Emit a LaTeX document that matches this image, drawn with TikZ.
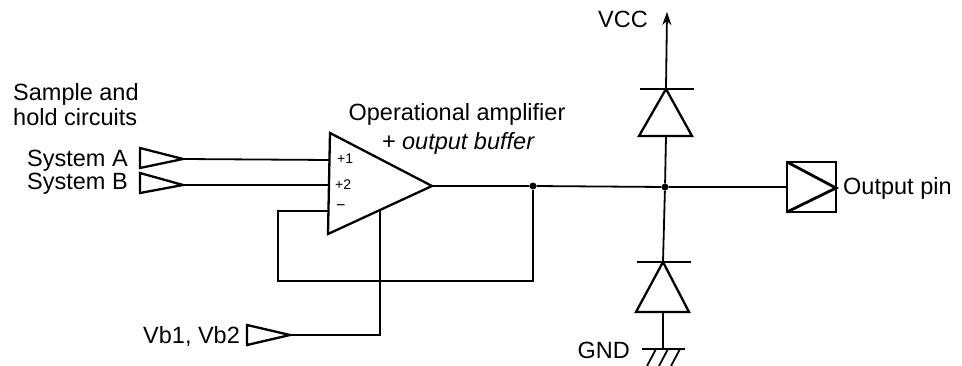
\documentclass[tikz,border=0pt]{standalone}
\usepackage{fontspec}
\setmainfont{Liberation Sans}
\usetikzlibrary{arrows.meta}
\tikzset{
  wire/.style={line width=1.8pt},
  thick sym/.style={line width=2.3pt,line join=miter},
  lab/.style={inner sep=0pt,font=\fontsize{23.5}{25}\selectfont},
  pinlab/.style={inner sep=0pt,font=\fontsize{14}{14}\selectfont},
  junct/.style={circle,fill=black,inner sep=0pt,minimum size=7pt}
}
\begin{document}
\begin{tikzpicture}[x=1pt,y=-1pt]
\useasboundingbox (0,0) rectangle (962,366);
% coordinates
\coordinate (aT) at (140,148); \coordinate (aB) at (140,168); \coordinate (aO) at (183,159);
\coordinate (bT) at (140,173); \coordinate (bB) at (140,193); \coordinate (bO) at (183,185);
\coordinate (vT) at (247,325); \coordinate (vB) at (247,345); \coordinate (vO) at (290,335);
\coordinate (opT) at (330,133); \coordinate (opB) at (328,234); \coordinate (opO) at (432,186);
\coordinate (in1) at (330,160); \coordinate (in2) at (330,185); \coordinate (inm) at (329,211);
\coordinate (pw) at (380,210); \coordinate (pwb) at (380,335);
\coordinate (fbl) at (278,211); \coordinate (fbb) at (278,281); \coordinate (fbr) at (533,281);
\node[junct] (j1) at (533,186) {};
\node[junct] (j2) at (665,187) {};
\coordinate (vcc) at (667,12);
\coordinate (d1a) at (666,89); \coordinate (d1l) at (639,136); \coordinate (d1r) at (692,136); \coordinate (d1m) at (666,136);
\coordinate (d1bl) at (640,89); \coordinate (d1br) at (694,89);
\coordinate (d2a) at (663,262); \coordinate (d2l) at (636,312); \coordinate (d2r) at (689,312); \coordinate (d2m) at (663,312);
\coordinate (d2bl) at (637,262); \coordinate (d2br) at (691,262);
\coordinate (g) at (663,349);
\coordinate (gl) at (642,349); \coordinate (gr) at (685,349);
\coordinate (pinTL) at (787,162); \coordinate (pinBL) at (787,212); \coordinate (pinTR) at (836,162); \coordinate (pinBR) at (836,212); \coordinate (pinO) at (836,188); \coordinate (pinI) at (787,187);
% buffers
\draw[thick sym] (aT) -- (aO) -- (aB) -- cycle;
\draw[thick sym] (bT) -- (bO) -- (bB) -- cycle;
\draw[thick sym] (vT) -- (vO) -- (vB) -- cycle;
\draw[thick sym] (opT) -- (opO) -- (opB) -- cycle;
% wires
\draw[wire] (aO) -- (in1);
\draw[wire] (bO) -- (in2);
\draw[wire] (opO) -- (j1) -- (j2) -- (pinI);
\draw[wire] (inm) -- (fbl) -- (fbb) -- (fbr) -- (j1);
\draw[wire] (pw) -- (pwb) -- (vO);
\draw[wire,-{Stealth[length=13pt,width=9pt]}] (d1a) -- (vcc);
\draw[wire] (d1m) -- (j2) -- (d2a);
\draw[wire] (d2m) -- (g);
% diodes
\draw[thick sym] (d1a) -- (d1l) -- (d1r) -- cycle;
\draw[wire] (d1bl) -- (d1br);
\draw[thick sym] (d2a) -- (d2l) -- (d2r) -- cycle;
\draw[wire] (d2bl) -- (d2br);
% ground
\draw[wire] (gl) -- (gr);
\draw[wire] (656,349) -- (647,366);
\draw[wire] (668,349) -- (659,366);
\draw[wire] (680,349) -- (671,366);
% output pin
\draw[line width=1.8pt] (pinTL) rectangle (pinBR);
\draw[line width=2.8pt] (pinTL) -- (pinO) -- (pinBL);
% labels
\node[lab,anchor=base west] (t1) at (13,101) {Sample and};
\node[lab,anchor=base west] (t2) at (13,126) {hold circuits};
\node[lab,anchor=base west] (t3) at (27,167) {System A};
\node[lab,anchor=base west] (t4) at (27,190) {System B};
\node[lab,anchor=base] (t5) at (457,121) {Operational amplifier};
\node[lab,anchor=base] (t6) at (458,150) {\itshape + output buffer};
\node[lab,anchor=base west] (t7) at (143,343) {Vb1, Vb2};
\node[lab,anchor=base west] (t8) at (843,195) {Output pin};
\node[lab,anchor=base east] (t9) at (648,28) {VCC};
\node[lab,anchor=base east] (t10) at (630,359) {GND};
\node[pinlab,anchor=base west] (p1) at (337,164) {+1};
\node[pinlab,anchor=base west] (p2) at (335,190) {+2};
\node[pinlab,anchor=base west] (p3) at (336,211) {\fontsize{16}{16}\selectfont −};
\end{tikzpicture}
\end{document}
